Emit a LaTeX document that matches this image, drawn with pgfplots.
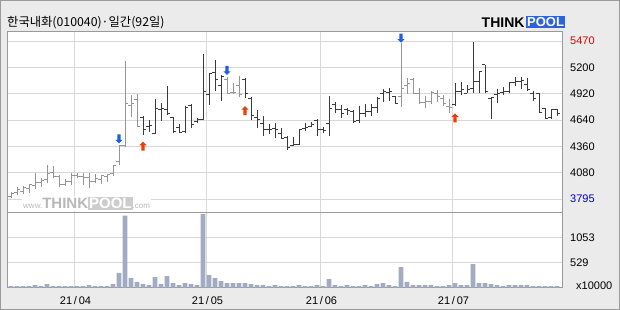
\documentclass[border=0pt]{standalone}
\usepackage{pgfplots}
\pgfplotsset{compat=1.18}
\usepackage{pgfplotstable}
\usepackage{fontspec}
\setmainfont{Liberation Sans}
\newfontfamily\kr{Noto Sans CJK KR}
\definecolor{bgc}{HTML}{EBEBEB}
\definecolor{framec}{HTML}{9A9A9A}
\definecolor{gridc}{HTML}{D8D8D8}
\definecolor{bargray}{HTML}{959595}
\definecolor{bardark}{HTML}{3A3A3A}
\definecolor{volc}{HTML}{A2ABC2}
\definecolor{arrblue}{HTML}{1A5FE6}
\definecolor{arrred}{HTML}{E8400C}
\definecolor{lblred}{HTML}{E60000}
\definecolor{lblblue}{HTML}{0000CC}
\definecolor{logoblue}{HTML}{2B63D8}
\definecolor{wmc}{HTML}{B8B8B8}

\pgfdeclareplotmark{otick}{\pgfpathmoveto{\pgfqpoint{-3pt}{0pt}}\pgfpathlineto{\pgfqpoint{0pt}{0pt}}\pgfusepathqstroke}
\pgfdeclareplotmark{ctick}{\pgfpathmoveto{\pgfqpoint{0pt}{0pt}}\pgfpathlineto{\pgfqpoint{3pt}{0pt}}\pgfusepathqstroke}
\pgfdeclareplotmark{dnarrow}{%
  \pgfpathmoveto{\pgfqpoint{0pt}{0pt}}%
  \pgfpathlineto{\pgfqpoint{-3.6pt}{3.6pt}}%
  \pgfpathlineto{\pgfqpoint{-1.7pt}{3.6pt}}%
  \pgfpathlineto{\pgfqpoint{-1.7pt}{9pt}}%
  \pgfpathlineto{\pgfqpoint{1.7pt}{9pt}}%
  \pgfpathlineto{\pgfqpoint{1.7pt}{3.6pt}}%
  \pgfpathlineto{\pgfqpoint{3.6pt}{3.6pt}}%
  \pgfpathclose\pgfusepathqfill}
\pgfdeclareplotmark{uparrow}{%
  \pgfpathmoveto{\pgfqpoint{0pt}{0pt}}%
  \pgfpathlineto{\pgfqpoint{-3.6pt}{-3.6pt}}%
  \pgfpathlineto{\pgfqpoint{-1.7pt}{-3.6pt}}%
  \pgfpathlineto{\pgfqpoint{-1.7pt}{-9pt}}%
  \pgfpathlineto{\pgfqpoint{1.7pt}{-9pt}}%
  \pgfpathlineto{\pgfqpoint{1.7pt}{-3.6pt}}%
  \pgfpathlineto{\pgfqpoint{3.6pt}{-3.6pt}}%
  \pgfpathclose\pgfusepathqfill}

\pgfplotstableread{
i o h l c
0 3820 3873 3802 3855
1 3862 3926 3837 3898
2 3873 3933 3848 3919
3 3908 3954 3862 3944
4 3933 4075 3898 3968
5 3968 4014 3926 3990
6 3997 4156 3961 4067
7 4075 4145 4014 4032
8 4032 4050 3926 3954
9 3954 4004 3933 3979
10 3979 4075 3944 4039
11 4039 4075 4014 4032
12 4032 4067 3944 4025
13 4025 4075 3908 3979
14 3979 4060 3961 4014
15 4004 4050 3954 4039
16 4032 4050 3979 4050
17 4067 4156 4039 4145
18 4191 4368 4156 4358
19 4358 5253 4350 4803
20 4782 4899 4669 4803
21 4846 4910 4556 4563
22 4662 4676 4474 4527
23 4563 4634 4510 4570
24 4492 4853 4485 4757
25 4740 4810 4626 4757
26 4740 4994 4687 4704
27 4662 4669 4499 4510
28 4556 4591 4492 4499
29 4510 4782 4499 4768
30 4782 4803 4545 4580
31 4616 4651 4598 4634
32 4641 5334 4634 4934
33 4899 5136 4793 5129
34 5136 5270 4945 5058
35 4994 5111 4839 5093
36 5065 5093 4917 4917
37 4924 5030 4910 4924
38 4994 5101 4881 4899
39 5065 5076 4864 4910
40 4864 4881 4634 4676
41 4662 4740 4545 4634
42 4591 4676 4464 4527
43 4527 4591 4485 4534
44 4545 4598 4439 4527
45 4492 4545 4439 4439
46 4450 4464 4315 4343
47 4358 4457 4358 4368
48 4368 4534 4368 4527
49 4545 4598 4520 4556
50 4563 4616 4556 4580
51 4626 4641 4464 4527
52 4534 4563 4492 4520
53 4598 4888 4464 4757
54 4793 4828 4704 4747
55 4747 4793 4651 4704
56 4740 4757 4687 4733
57 4722 4740 4605 4616
58 4626 4782 4598 4704
59 4704 4803 4662 4722
60 4722 4803 4676 4768
61 4768 4874 4704 4864
62 4917 4959 4828 4931
63 4924 4970 4839 4934
64 4881 4888 4803 4803
65 4881 5447 4768 4970
66 4994 5076 4910 5016
67 5058 5076 4917 4917
68 4917 4970 4803 4818
69 4818 4888 4757 4828
70 4828 4945 4803 4924
71 4917 4952 4828 4881
72 4864 4899 4782 4803
73 4775 4853 4704 4768
74 4793 5030 4782 4934
75 4934 5040 4899 4952
76 4917 5005 4917 4959
77 4970 5465 4924 5040
78 5040 5147 4924 5147
79 5217 5217 4924 4934
80 4864 4881 4641 4874
81 4899 4959 4818 4910
82 4924 4980 4899 4934
83 4934 5040 4924 5030
84 5030 5086 4994 5040
85 5040 5093 4959 5051
86 5005 5076 4945 4959
87 4910 4945 4839 4864
88 4910 4917 4704 4711
89 4757 4757 4641 4651
90 4662 4747 4641 4740
91 4740 4747 4676 4697
}\ohlc

\pgfplotstableread{
i v
0 32
1 32
2 32
3 32
4 52
5 32
6 74
7 32
8 32
9 32
10 32
11 32
12 32
13 52
14 32
15 32
16 32
17 74
18 312
19 1508
20 200
21 122
22 74
23 52
24 220
25 74
26 242
27 94
28 52
29 94
30 74
31 52
32 1544
33 262
34 200
35 136
36 94
37 94
38 94
39 94
40 74
41 52
42 52
43 32
44 52
45 32
46 32
47 32
48 52
49 32
50 32
51 52
52 32
53 178
54 52
55 32
56 52
57 32
58 32
59 52
60 32
61 74
62 94
63 52
64 32
65 430
66 122
67 52
68 52
69 52
70 52
71 32
72 32
73 52
74 94
75 52
76 52
77 494
78 94
79 94
80 74
81 52
82 32
83 52
84 52
85 52
86 52
87 32
88 32
89 32
90 32
91 32
}\vol

\pgfplotsset{
  commonax/.style={scale only axis, width=555pt, xmin=-0.667, xmax=91.833,
    clip=false,
    axis background/.style={fill=white},
    axis line style={draw=framec, line width=0.8pt},
    major tick length=0pt,
    xmajorgrids, ymajorgrids,
    grid style={draw=gridc, line width=0.8pt},
    xtick={10.5,32.5,51.5,73.5},
    yticklabel pos=right,
    tick label style={font=\fontsize{11}{11}\selectfont, text=black},
    yticklabel style={anchor=west, inner sep=0pt, xshift=8pt}},
  grayset/.style={skip coords between index={22}{36}, skip coords between index={39}{65}, skip coords between index={74}{92}},
  darkset/.style={skip coords between index={0}{22}, skip coords between index={36}{39}, skip coords between index={65}{74}},
}

\begin{document}
\begin{tikzpicture}
\fill[bgc] (0pt,0pt) rectangle (620pt,310pt);
\draw[framec, line width=1pt] (0.5pt,0.5pt) rectangle (619.5pt,309.5pt);
\node[anchor=base west, inner sep=0pt, font=\kr\fontsize{12.3}{12.3}\selectfont] at (7pt,283pt) {한국내화(010040)·일간(92일)};
\node[anchor=south west, inner sep=0pt, font=\bfseries\fontsize{14}{14}\selectfont] at (481.5pt,282.5pt) {THINK};
\node[anchor=south west, inner sep=1pt, fill=logoblue, text=white, font=\bfseries\fontsize{13}{13}\selectfont, minimum height=12pt] at (526pt,281.5pt) {POOL};

\begin{axis}[commonax, at={(7pt,97.7pt)}, anchor=south west, height=180.6pt,
  ymin=3654, ymax=5569,
  ytick={3795,4074.17,4353.33,4632.5,4911.67,5190.83,5470},
  yticklabels={\textcolor{lblblue}{3795},4080,4360,4640,4920,5200,\textcolor{lblred}{5470}},
  xticklabels={}]
\node[anchor=south west, inner sep=1pt, fill=white, text=wmc] at (rel axis cs:0,0) [xshift=15pt, yshift=1.5pt]
  {{\fontsize{8}{8}\selectfont www.}{\bfseries\fontsize{15}{15}\selectfont THINK}{\setlength{\fboxsep}{1pt}\colorbox{wmc!70}{\textcolor{white}{\bfseries\fontsize{15}{15}\selectfont POOL}}}{\fontsize{8}{8}\selectfont .com}};
% high-low lines
\addplot[draw=none, mark=none, forget plot, grayset,
  error bars/.cd, y dir=plus, y explicit, error mark=none,
  error bar style={draw=bargray, line width=1pt}]
  table[x=i, y=l, y error plus expr=\thisrow{h}-\thisrow{l}] {\ohlc};
\addplot[draw=none, mark=none, forget plot, darkset,
  error bars/.cd, y dir=plus, y explicit, error mark=none,
  error bar style={draw=bardark, line width=1pt}]
  table[x=i, y=l, y error plus expr=\thisrow{h}-\thisrow{l}] {\ohlc};
% open ticks
\addplot[only marks, mark=otick, mark options={draw=bargray, line width=1pt}, grayset] table[x=i, y=o] {\ohlc};
\addplot[only marks, mark=otick, mark options={draw=bardark, line width=1pt}, darkset] table[x=i, y=o] {\ohlc};
% close ticks
\addplot[only marks, mark=ctick, mark options={draw=bargray, line width=1pt}, grayset] table[x=i, y=c] {\ohlc};
\addplot[only marks, mark=ctick, mark options={draw=bardark, line width=1pt}, darkset] table[x=i, y=c] {\ohlc};
% signals
\addplot[only marks, mark=dnarrow, mark options={fill=arrblue, draw=none}] coordinates {(18,4385) (36,5110) (65,5452)};
\addplot[only marks, mark=uparrow, mark options={fill=arrred, draw=none}] coordinates {(22,4403) (39,4781) (74,4703)};
\end{axis}

\begin{axis}[commonax, at={(7pt,22.3pt)}, anchor=south west, height=75.4pt,
  ymin=0, ymax=1580,
  ytick={529,1053}, yticklabels={529,1053},
  xticklabels={21\,/\,04,21\,/\,05,21\,/\,06,21\,/\,07},
  xticklabel style={anchor=north, inner sep=0pt, yshift=-9pt, xshift=1.5pt}]
\addplot[ybar, bar width=4.6pt, fill=volc, draw=none] table[x=i, y=v] {\vol};
\node[anchor=west, inner sep=0pt, font=\fontsize{11}{11}\selectfont] at (rel axis cs:1,0) [xshift=14pt, yshift=2pt] {x10000};
\end{axis}
\end{tikzpicture}
\end{document}
